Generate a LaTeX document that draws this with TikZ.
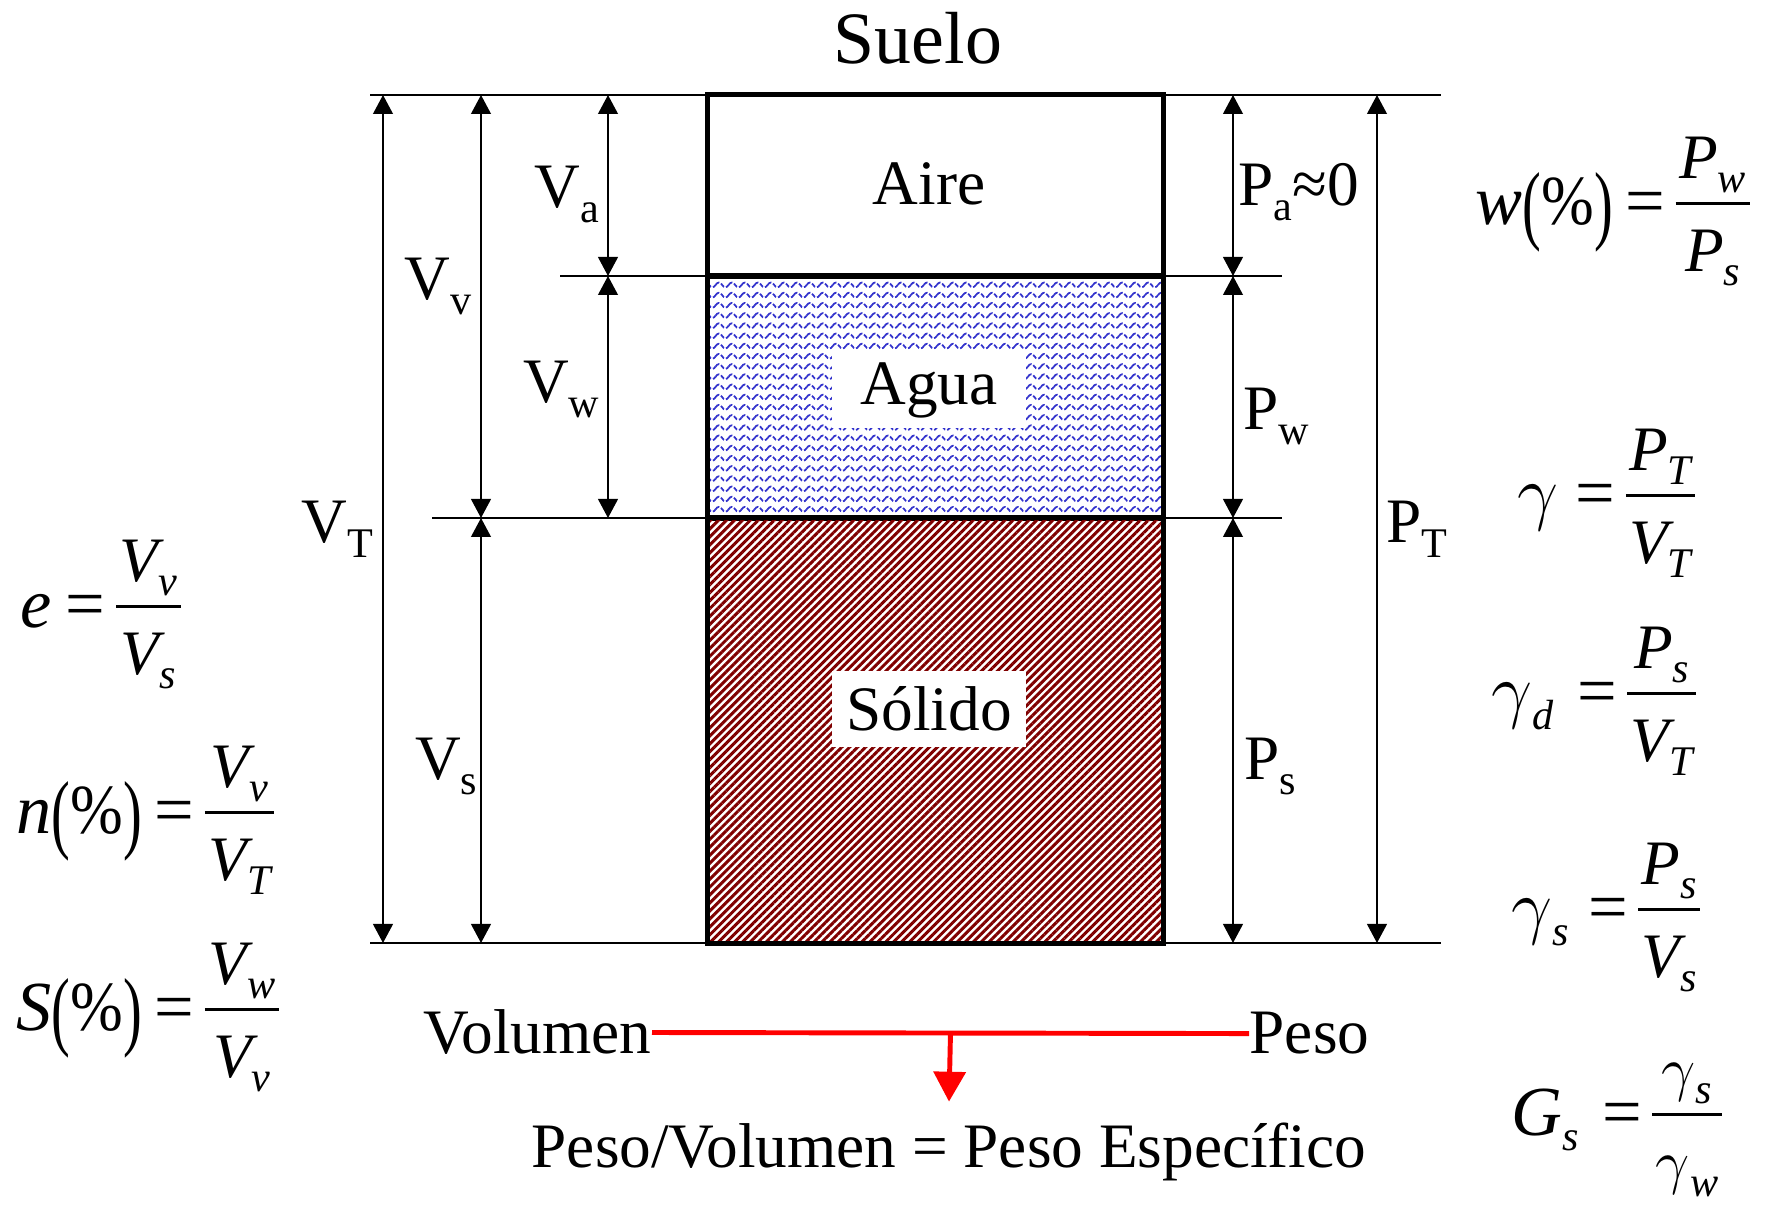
\documentclass[tikz,border=0pt]{standalone}
\usepackage{fontspec}
\setmainfont{Liberation Serif}
\usepackage{tikz}
\usetikzlibrary{arrows.meta,patterns,patterns.meta,calc}
\definecolor{aguacol}{RGB}{51,51,204}
\definecolor{solidocol}{RGB}{128,0,0}
\setlength{\arrayrulewidth}{0.8pt}
\pgfdeclarepatternformonly{olas}{\pgfpoint{-0.5pt}{-0.5pt}}{\pgfpoint{4.2pt}{3.4pt}}{\pgfpoint{3.7pt}{2.9pt}}{
  \pgfsetlinewidth{0.5pt}
  \pgfsetdash{{1.3pt}{0.55pt}}{0pt}
  \pgfpathmoveto{\pgfpoint{0pt}{1.2pt}}
  \pgfpathcurveto{\pgfpoint{0.55pt}{2.1pt}}{\pgfpoint{1.3pt}{2.1pt}}{\pgfpoint{1.85pt}{1.2pt}}
  \pgfpathcurveto{\pgfpoint{2.4pt}{0.3pt}}{\pgfpoint{3.15pt}{0.3pt}}{\pgfpoint{3.7pt}{1.2pt}}
  \pgfusepath{stroke}
}
\newcommand{\magn}[2]{#1\raisebox{-4.2pt}{\fontsize{12}{12}\selectfont #2}}
\newcommand{\isub}[2]{{\itshape #1}\raisebox{-4pt}{\fontsize{12}{12}\selectfont\itshape #2}}
\newcommand{\gam}{$\gamma$}
\newcommand{\razon}[2]{{\fontsize{18}{22}\selectfont\begin{tabular}[c]{@{\kern1pt}c@{\kern1pt}}#1\\\hline\rule{0pt}{19pt}#2\end{tabular}}}
\newcommand{\pct}{\raisebox{-0.12em}{\scalebox{0.8}[1.25]{(}}\scalebox{0.9}[1]{\%}\raisebox{-0.12em}{\scalebox{0.8}[1.25]{)}}}
\newcommand{\igual}[1]{\hspace{#1}=\hspace{0.15em}}
\tikzset{
  fase/.style={
    draw,
    line width=1.4pt,
    minimum width=4.55cm,
    inner sep=0pt
  },
  cota/.style={
    line width=0.6pt
  },
  lbl/.style={
    font=\fontsize{18}{20}\selectfont,
    inner sep=0pt
  },
  etiq/.style={
    lbl,
    fill=white,
    minimum width=1.94cm,
    minimum height=0.76cm
  },
  form/.style={
    font=\fontsize{20}{24}\selectfont,
    inner sep=0pt,
    anchor=base west
  },
  rojo/.style={
    red,
    line width=1.4pt
  }
}

\begin{document}
\begin{tikzpicture}[x=0.01cm,y=-0.01cm,>={Triangle[width=5.6pt,length=5.4pt]}]
  \useasboundingbox (0,0) rectangle (1768,1207);
  % niveles
  \coordinate (top) at (0,95);
  \coordinate (aw) at (0,276);
  \coordinate (ws) at (0,518);
  \coordinate (bot) at (0,943);
  \coordinate (l0) at (370,0);
  \coordinate (r0) at (1441,0);
  \coordinate (l1) at (560,0);
  \coordinate (l2) at (432,0);
  \coordinate (r1) at (1282,0);
  \coordinate (xT) at (383,0);
  \coordinate (xv) at (481,0);
  \coordinate (xa) at (608,0);
  \coordinate (xp) at (1233,0);
  \coordinate (xPT) at (1377,0);

  % fases
  \node[fase,minimum height=1.81cm] (aire) at (935.5,185.5) {};
  \node[fase,minimum height=2.42cm,pattern=olas,pattern color=aguacol] (agua) at (935.5,397) {};
  \node[fase,minimum height=4.25cm,pattern={Lines[angle=45,distance=1.6pt,line width=0.85pt]},pattern color=solidocol] (solido) at (935.5,730.5) {};
  \node[lbl,font=\fontsize{21}{24}\selectfont,anchor=base] (suelo) at (918,64) {Suelo};
  \node[lbl,anchor=base] (laire) at (929,205) {Aire};
  \node[etiq] (lagua) at (929,390) {Agua};
  \node[etiq] (lsolido) at (929,709) {Sólido};

  % lineas de referencia
  \draw[cota] (l0 |- top) -- (r0 |- top);
  \draw[cota] (l1 |- aw) -- (r1 |- aw);
  \draw[cota] (l2 |- ws) -- (r1 |- ws);
  \draw[cota] (l0 |- bot) -- (r0 |- bot);

  % volumenes
  \draw[cota,<->] (xT |- top) -- (xT |- bot);
  \draw[cota,<->] (xv |- top) -- (xv |- ws);
  \draw[cota,<->] (xv |- ws) -- (xv |- bot);
  \draw[cota,<->] (xa |- top) -- (xa |- aw);
  \draw[cota,<->] (xa |- aw) -- (xa |- ws);
  \node[lbl,anchor=base east] (vt) at (374,543) {\magn{V}{T}};
  \node[lbl,anchor=base east] (vv) at (472,300) {\magn{V}{v}};
  \node[lbl,anchor=base east] (vs) at (478,780) {\magn{V}{s}};
  \node[lbl,anchor=base east] (va) at (600,208) {\magn{V}{a}};
  \node[lbl,anchor=base east] (vw) at (600,403) {\magn{V}{w}};

  % pesos
  \draw[cota,<->] (xp |- top) -- (xp |- aw);
  \draw[cota,<->] (xp |- aw) -- (xp |- ws);
  \draw[cota,<->] (xp |- ws) -- (xp |- bot);
  \draw[cota,<->] (xPT |- top) -- (xPT |- bot);
  \node[lbl,anchor=base west] (pa) at (1238,206) {\magn{P}{a}≈0};
  \node[lbl,anchor=base west] (pw) at (1243,430) {\magn{P}{w}};
  \node[lbl,anchor=base west] (ps) at (1244,780) {\magn{P}{s}};
  \node[lbl,anchor=base west] (pt) at (1386,543) {\magn{P}{T}};

  % relaciones
  \node[form] (fe) at (20,628) {\textit{e}\igual{0.2em}\razon{\isub{V}{v}}{\isub{V}{s}}};
  \node[form] (fn) at (16,834) {\textit{n}\pct\igual{0.18em}\razon{\isub{V}{v}}{\isub{V}{T}}};
  \node[form] (fS) at (16,1031) {\textit{S}\pct\igual{0.18em}\razon{\isub{V}{w}}{\isub{V}{v}}};
  \node[form] (fw) at (1475,225) {\textit{w}\pct\igual{0.18em}\razon{\isub{P}{w}}{\isub{P}{s}}};
  \node[form] (fg) at (1517,517) {\gam\igual{0.24em}\razon{\isub{P}{T}}{\isub{V}{T}}};
  \node[form] (fgd) at (1491,715) {\isub{\gam}{d}\igual{0.33em}\razon{\isub{P}{s}}{\isub{V}{T}}};
  \node[form] (fgs) at (1511,931) {\isub{\gam}{s}\igual{0.27em}\razon{\isub{P}{s}}{\isub{V}{s}}};
  \node[form] (fG) at (1511,1136) {\isub{G}{s}\igual{0.33em}\razon{\isub{\gam}{s}}{\isub{\gam}{w}}};

  % volumen y peso
  \node[lbl,anchor=base east] (vol) at (652,1054) {Volumen};
  \node[lbl,anchor=base west] (peso) at (1249,1054) {Peso};
  \node[lbl,anchor=base] (pe) at (949,1168) {Peso/Volumen = Peso Específico};
  \draw[rojo] (vol.east) -- (peso.west);
  \draw[rojo,-{Triangle[width=9pt,length=8.5pt]}] ($(vol.east)!0.5!(peso.west)$) -- ([yshift=6pt]pe.north);
\end{tikzpicture}
\end{document}
